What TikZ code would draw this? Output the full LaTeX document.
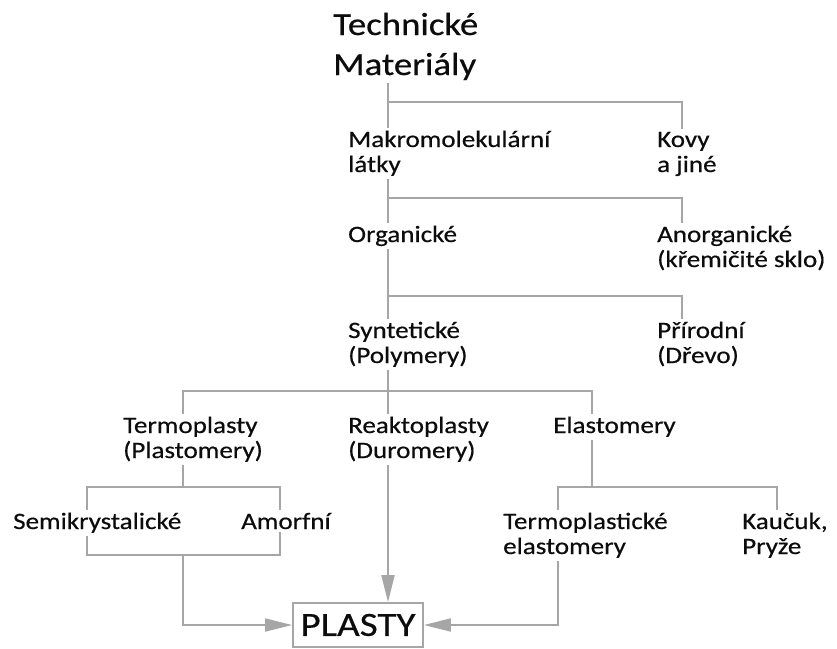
\documentclass[tikz,border=0pt]{standalone}
\usepackage{fontspec}
\setmainfont{Carlito}[FakeStretch=1.15,FakeBold=0.5]
\usepackage{tikz}
\usetikzlibrary{arrows.meta,calc}
\definecolor{matInk}{RGB}{12,12,12}
\definecolor{matLine}{RGB}{166,166,166}

\begin{document}
\begin{tikzpicture}[
    x=1pt,y=-1pt,
    label/.style={anchor=base west,inner sep=0pt,outer ysep=3pt,align=left,text=matInk,font=\fontsize{23.5}{25}\selectfont},
    title/.style={label,font=\fontsize{32}{40}\selectfont},
    link/.style={matLine,line width=1.8pt},
    arrow/.style={link,-{Triangle[length=27pt,width=13pt]}}
  ]
    \useasboundingbox (0,0) rectangle (837,648);
    % labels of the tree (placed at the baseline of their last line)
    \node[title] (tech) at (333,75) {Technické\\Materiály};
    \node[label] (mak) at (348,172) {Makromolekulární\\látky};
    \node[label] (kovy) at (657,172) {Kovy\\a jiné};
    \node[label] (org) at (348,242) {Organické};
    \node[label] (anorg) at (657,267) {Anorganické\\(křemičité sklo)};
    \node[label] (synt) at (348,363) {Syntetické\\(Polymery)};
    \node[label] (prir) at (657,363) {Přírodní\\(Dřevo)};
    \node[label] (termo) at (123,458) {Termoplasty\\(Plastomery)};
    \node[label] (reakto) at (348,458) {Reaktoplasty\\(Duromery)};
    \node[label] (elast) at (553,433) {Elastomery};
    \node[label] (semi) at (13,529) {Semikrystalické};
    \node[label] (amorf) at (241,529) {Amorfní};
    \node[label] (tpe) at (503,554) {Termoplastické\\elastomery};
    \node[label] (kauc) at (742,554) {Kaučuk,\\Pryže};
    \node[draw=matLine,line width=1.8pt,inner sep=0pt,minimum width=130pt,minimum height=44pt,
      text=matInk,font=\fontsize{34}{34}\selectfont] (plasty) at (358,625) {PLASTY};
    % junctions
    \coordinate (j1) at (388,102);
    \coordinate (j2) at (388,198);
    \coordinate (j3) at (388,296);
    \coordinate (j4) at (388,391);
    \coordinate (j5) at (183,487);
    \coordinate (j6) at (183,555);
    \coordinate (j7) at (592,487);
    \coordinate (cR) at (682,0);
    \coordinate (cS) at (87,0);
    \coordinate (cA) at (280,0);
    \coordinate (cT) at (558,0);
    \coordinate (cK) at (777,0);
    % connectors
    \draw[link] (j1 |- tech.south) -- (j1 |- mak.north);
    \draw[link] (j1) -| (cR |- kovy.north);
    \draw[link] (j2 |- mak.south) -- (j2 |- org.north);
    \draw[link] (j2) -| (cR |- anorg.north);
    \draw[link] (j3 |- org.south) -- (j3 |- synt.north);
    \draw[link] (j3) -| (cR |- prir.north);
    \draw[link] (j4 |- synt.south) -- (j4 |- reakto.north);
    \draw[link] (j5 |- termo.north) |- (j4) -| (j7 |- elast.north);
    \draw[link] (j5 |- termo.south) -- (j5);
    \draw[link] (cS |- semi.north) |- (j5) -| (cA |- amorf.north);
    \draw[link] (cS |- semi.south) |- (j6) -| (cA |- amorf.south);
    \draw[arrow] (j6) |- (plasty.west);
    \draw[arrow] (j4 |- reakto.south) -- (j4 |- plasty.north);
    \draw[link] (j7 |- elast.south) -- (j7);
    \draw[link] (cT |- tpe.north) |- (j7) -| (cK |- kauc.north);
    \draw[arrow] (cT |- tpe.south) |- (plasty.east);
  \end{tikzpicture}
\end{document}
